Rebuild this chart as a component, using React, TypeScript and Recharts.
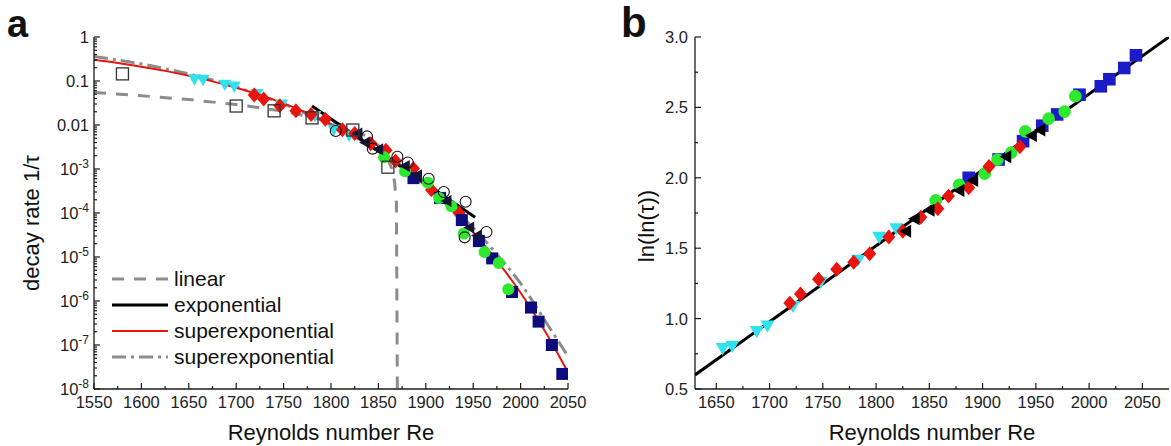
import React from 'react';
import { ComposedChart, Scatter, Line, XAxis, YAxis } from 'recharts';

const FONT = '"Liberation Sans", Arial, Helvetica, sans-serif';
const AXIS = '#1a1a1a';

// measured data sets: Reynolds number, decay rate 1/tau (panel a), ln(ln(tau)) (panel b)
const cyanRe = [1656, 1665, 1688, 1698, 1722, 1748, 1783, 1803, 1819];
const cyanRate = [0.11, 0.107, 0.083, 0.075, 0.051, 0.0295, 0.0162, 0.0078, 0.0058];
const cyanLnLn = [0.79, 0.805, 0.91, 0.95, 1.09, 1.26, 1.416, 1.58, 1.64];

const redRe = [1719, 1729, 1746, 1763, 1779, 1794, 1812, 1825, 1842, 1858, 1868, 1887, 1906, 1935];
const redRate = [0.048, 0.039, 0.0274, 0.0211, 0.0173, 0.0135, 0.0078, 0.0064, 0.00375, 0.00266, 0.00152, 0.00102, 3.35e-4, 1.0e-4];
const redLnLn = [1.11, 1.175, 1.28, 1.35, 1.4, 1.46, 1.58, 1.62, 1.72, 1.78, 1.87, 1.93, 2.08, 2.22];

const triRe = [1828, 1836, 1850, 1878, 1891, 1922, 1946, 1954];
const triRate = [0.0064, 0.004, 0.0028, 0.00117, 7.2e-4, 1.88e-4, 4.7e-5, 3.1e-5];
const triLnLn = [1.62, 1.71, 1.77, 1.91, 1.98, 2.15, 2.3, 2.34];

const greenRe = [1856, 1878, 1902, 1914, 1927, 1940, 1962, 1977, 1987];
const greenRate = [0.00184, 8.9e-4, 4.9e-4, 2.2e-4, 1.43e-4, 3.4e-5, 1.3e-5, 7.3e-6, 1.85e-6];
const greenLnLn = [1.84, 1.95, 2.03, 2.13, 2.18, 2.33, 2.42, 2.47, 2.58];

const blueRe = [1887, 1915, 1938, 1956, 1970, 1991, 2011, 2019, 2033, 2044];
const blueRate = [6.2e-4, 2.2e-4, 6.9e-5, 2.3e-5, 9.3e-6, 1.6e-6, 7.1e-7, 3.4e-7, 1.0e-7, 2.2e-8];
const blueLnLn = [2.0, 2.13, 2.26, 2.37, 2.45, 2.59, 2.65, 2.7, 2.78, 2.87];

// earlier studies, only in panel a
const openSqRe = [1580, 1700, 1740, 1780, 1823, 1860];
const openSqRate = [0.145, 0.027, 0.021, 0.0145, 0.0077, 0.0011];
const openCircRe = [1805, 1838, 1844, 1870, 1881, 1903, 1919, 1942, 1941, 1964];
const openCircRate = [0.0073, 0.0055, 0.0029, 0.0019, 0.0014, 6e-4, 3e-4, 1.8e-4, 2.8e-5, 3.7e-5];

// fit curves
const linRe = [1550, 1600, 1650, 1700, 1750, 1800, 1825, 1840, 1850, 1858, 1864, 1867, 1869, 1870];
const linRate = [0.055, 0.0464, 0.0378, 0.0292, 0.0206, 0.012, 0.0077, 0.0052, 0.0034, 0.0021, 0.00103, 5.2e-4, 1.7e-4, 1e-8];
const expRe = [1780, 1952];
const expRate = [0.027, 8e-5];
const superRe = [1550, 1575, 1600, 1625, 1650, 1675, 1700, 1725, 1750, 1775, 1800, 1825, 1850, 1875, 1900, 1925, 1950, 1975, 2000, 2025, 2050];
const superRate = [0.306, 0.258, 0.212, 0.17, 0.131, 0.098, 0.07, 0.048, 0.031, 0.0187, 0.0105, 0.00545, 0.00257, 0.00109, 4.07e-4, 1.32e-4, 3.62e-5, 8.3e-6, 1.54e-6, 2.2e-7, 2.4e-8];
const dashDotRate = [0.36, 0.3, 0.245, 0.19, 0.145, 0.105, 0.073, 0.048, 0.03, 0.018, 0.0102, 0.0054, 0.0026, 0.00115, 4.5e-4, 1.55e-4, 4.6e-5, 1.15e-5, 2.5e-6, 3.8e-7, 5.5e-8];

// fit line of panel b
const fitRe = [1630, 2075];
const fitLnLn = [0.6, 3.0];

// axes
const reMajorA = [1550, 1600, 1650, 1700, 1750, 1800, 1850, 1900, 1950, 2000, 2050];
const reTicksA = reMajorA.flatMap((v) => [v, v + 25]).filter((v) => v <= 2050);
const decadesA = [1e-8, 1e-7, 1e-6, 1e-5, 1e-4, 1e-3, 0.01, 0.1, 1];
const decadeLabelsA = ['10|-8', '10|-7', '10|-6', '10|-5', '10|-4', '10|-3', '0.01', '0.1', '1'];
const logTicksA = [
  ...decadesA,
  ...decadesA.slice(0, -1).flatMap((d) => [2, 3, 4, 5, 6, 7, 8, 9].map((k) => k * d)),
];

const reMajorB = [1650, 1700, 1750, 1800, 1850, 1900, 1950, 2000, 2050];
const reTicksB = reMajorB.flatMap((v) => [v, v + 25]).filter((v) => v <= 2050);
const lnMajorB = [0.5, 1.0, 1.5, 2.0, 2.5, 3.0];
const lnTicksB = [0.5, 0.75, 1.0, 1.25, 1.5, 1.75, 2.0, 2.25, 2.5, 2.75, 3.0];

const pts = (xs: number[], ys: number[]) => xs.map((x, i) => ({ x, y: ys[i] }));

type Side = 'bottom' | 'top' | 'left' | 'right';
const isIn = (list: number[], v: number) => list.some((m) => Math.abs(m - v) <= Math.abs(m) * 1e-6);

// ticks point inward; labels only on majors
const makeTick = (side: Side, majors: number[], label?: (v: number, x: number, y: number) => React.ReactNode) =>
  (props: any) => {
    const { x, y, payload } = props;
    const v = payload.value;
    const major = isIn(majors, v);
    const len = major ? 6 : 3;
    let x2 = x;
    let y2 = y;
    if (side === 'bottom') y2 = y - len;
    if (side === 'top') y2 = y + len;
    if (side === 'left') x2 = x + len;
    if (side === 'right') x2 = x - len;
    return (
      <g>
        <line x1={x} y1={y} x2={x2} y2={y2} stroke={AXIS} strokeWidth={1.2} />
        {major && label ? label(v, x, y) : null}
      </g>
    );
  };

const bottomLabel = (v: number, x: number, y: number) => (
  <text x={x} y={y + 19} textAnchor="middle" fontSize={16.5} fill="#222" fontFamily={FONT}>{v}</text>
);

const logLabel = (v: number, x: number, y: number) => {
  const i = decadesA.findIndex((d) => Math.abs(d - v) <= d * 1e-6);
  const [base, exp] = decadeLabelsA[i].split('|');
  return (
    <text x={x - 5} y={y + 6} textAnchor="end" fontSize={16.5} fill="#222" fontFamily={FONT}>
      {base}
      {exp ? <tspan dy={-7} fontSize={12}>{exp}</tspan> : null}
    </text>
  );
};

const lnLabel = (v: number, x: number, y: number) => (
  <text x={x - 7} y={y + 6} textAnchor="end" fontSize={16.5} fill="#222" fontFamily={FONT}>{v.toFixed(1)}</text>
);

type Mk = 'sq' | 'osq' | 'circ' | 'ocirc' | 'tdown' | 'tleft' | 'diam';
const marker = (kind: Mk, color: string, s: number) => (p: any) => {
  const { cx, cy } = p;
  if (cx == null || cy == null) return <g />;
  switch (kind) {
    case 'sq':
      return <rect x={cx - s} y={cy - s} width={2 * s} height={2 * s} fill={color} />;
    case 'osq':
      return <rect x={cx - s} y={cy - s} width={2 * s} height={2 * s} fill="none" stroke={color} strokeWidth={1.3} />;
    case 'circ':
      return <circle cx={cx} cy={cy} r={s} fill={color} />;
    case 'ocirc':
      return <circle cx={cx} cy={cy} r={s} fill="none" stroke={color} strokeWidth={1.1} />;
    case 'tdown':
      return <polygon points={`${cx - s},${cy - s * 0.75} ${cx + s},${cy - s * 0.75} ${cx},${cy + s}`} fill={color} />;
    case 'tleft':
      return <polygon points={`${cx - s},${cy} ${cx + s * 0.8},${cy - s} ${cx + s * 0.8},${cy + s}`} fill={color} />;
    default:
      return <polygon points={`${cx},${cy - s * 1.15} ${cx + s},${cy} ${cx},${cy + s * 1.15} ${cx - s},${cy}`} fill={color} />;
  }
};

const CYAN = '#30e2ee';
const RED = '#e8150f';
const GREEN = '#2ee82e';
const NAVY = '#0b0b7c';
const BLUE = '#1b1bc8';
const GRAY = '#8c8c8c';
const DASH = '12 10';
const DASHDOT = '14 5 3 5';

const axisLine = { stroke: AXIS, strokeWidth: 1.3 };

const PanelA = () => (
  <ComposedChart width={600} height={446} margin={{ top: 37, right: 32, bottom: 27, left: 34 }}>
    <XAxis dataKey="x" type="number" domain={[1550, 2050]} ticks={reTicksA} interval={0} allowDataOverflow
      tick={makeTick('bottom', reMajorA, bottomLabel)} tickLine={false} tickSize={0} tickMargin={0} height={30} axisLine={axisLine} />
    <XAxis xAxisId="t" orientation="top" type="number" domain={[1550, 2050]} ticks={reTicksA} interval={0} allowDataOverflow
      tick={makeTick('top', reMajorA)} tickLine={false} tickSize={0} tickMargin={0} height={0} axisLine={axisLine} />
    <YAxis dataKey="y" type="number" scale="log" domain={[1e-8, 1]} ticks={logTicksA} interval={0} allowDataOverflow
      tick={makeTick('left', decadesA, logLabel)} tickLine={false} tickSize={0} tickMargin={0} width={60} axisLine={axisLine} />
    <YAxis yAxisId="r" orientation="right" type="number" scale="log" domain={[1e-8, 1]} ticks={logTicksA} interval={0} allowDataOverflow
      tick={makeTick('right', decadesA)} tickLine={false} tickSize={0} tickMargin={0} width={0} axisLine={axisLine} />

    <Scatter data={pts(cyanRe, cyanRate)} shape={marker('tdown', CYAN, 6.5)} isAnimationActive={false} />
    <Scatter data={pts(redRe, redRate)} shape={marker('diam', RED, 6.5)} isAnimationActive={false} />
    <Scatter data={pts(blueRe, blueRate)} shape={marker('sq', NAVY, 6)} isAnimationActive={false} />
    <Scatter data={pts(greenRe, greenRate)} shape={marker('circ', GREEN, 6)} isAnimationActive={false} />
    <Scatter data={pts(triRe, triRate)} shape={marker('tleft', '#15153a', 6)} isAnimationActive={false} />
    <Scatter data={pts(openCircRe, openCircRate)} shape={marker('ocirc', '#111', 5.5)} isAnimationActive={false} />
    <Scatter data={pts(openSqRe, openSqRate)} shape={marker('osq', '#333', 6)} isAnimationActive={false} />

    <Line data={pts(linRe, linRate)} dataKey="y" type="linear" stroke={GRAY} strokeWidth={3} strokeDasharray={DASH}
      dot={false} activeDot={false} isAnimationActive={false} />
    <Line data={pts(superRe, dashDotRate)} dataKey="y" type="monotone" stroke={GRAY} strokeWidth={3} strokeDasharray={DASHDOT}
      dot={false} activeDot={false} isAnimationActive={false} />
    <Line data={pts(superRe, superRate)} dataKey="y" type="monotone" stroke={RED} strokeWidth={2}
      dot={false} activeDot={false} isAnimationActive={false} />
    <Line data={pts(expRe, expRate)} dataKey="y" type="linear" stroke="#000" strokeWidth={3}
      dot={false} activeDot={false} isAnimationActive={false} />
  </ComposedChart>
);

const PanelB = () => (
  <ComposedChart width={571} height={446} margin={{ top: 37, right: 2, bottom: 27, left: 35 }}>
    <XAxis dataKey="x" type="number" domain={[1630, 2075]} ticks={reTicksB} interval={0} allowDataOverflow
      tick={makeTick('bottom', reMajorB, bottomLabel)} tickLine={false} tickSize={0} tickMargin={0} height={30} axisLine={axisLine} />
    <XAxis xAxisId="t" orientation="top" type="number" domain={[1630, 2075]} ticks={reTicksB} interval={0} allowDataOverflow
      tick={makeTick('top', reMajorB)} tickLine={false} tickSize={0} tickMargin={0} height={0} axisLine={axisLine} />
    <YAxis dataKey="y" type="number" domain={[0.5, 3.0]} ticks={lnTicksB} interval={0} allowDataOverflow
      tick={makeTick('left', lnMajorB, lnLabel)} tickLine={false} tickSize={0} tickMargin={0} width={60} axisLine={axisLine} />
    <YAxis yAxisId="r" orientation="right" type="number" domain={[0.5, 3.0]} ticks={lnTicksB} interval={0} allowDataOverflow
      tick={makeTick('right', lnMajorB)} tickLine={false} tickSize={0} tickMargin={0} width={0} axisLine={axisLine} />

    <Line data={pts(fitRe, fitLnLn)} dataKey="y" type="linear" stroke="#000" strokeWidth={3}
      dot={false} activeDot={false} isAnimationActive={false} />

    <Scatter data={pts(cyanRe, cyanLnLn)} shape={marker('tdown', CYAN, 7)} isAnimationActive={false} />
    <Scatter data={pts(blueRe, blueLnLn)} shape={marker('sq', BLUE, 6.3)} isAnimationActive={false} />
    <Scatter data={pts(greenRe, greenLnLn)} shape={marker('circ', GREEN, 6.3)} isAnimationActive={false} />
    <Scatter data={pts(redRe, redLnLn)} shape={marker('diam', RED, 6.5)} isAnimationActive={false} />
    <Scatter data={pts(triRe, triLnLn)} shape={marker('tleft', '#000', 6.5)} isAnimationActive={false} />
  </ComposedChart>
);

const legendRows = [
  { label: 'linear', color: GRAY, width: 3, dash: DASH },
  { label: 'exponential', color: '#000', width: 3, dash: undefined },
  { label: 'superexponential', color: RED, width: 2, dash: undefined },
  { label: 'superexponential', color: GRAY, width: 3, dash: DASHDOT },
];

export default function App() {
  return (
    <div style={{ position: 'absolute', left: 0, top: 0, width: 1171, height: 446, background: '#fff', fontFamily: FONT }}>
      <div style={{ position: 'absolute', left: 0, top: 0 }}>
        <PanelA />
      </div>
      <div style={{ position: 'absolute', left: 600, top: 0 }}>
        <PanelB />
      </div>
      <svg width={1171} height={446} style={{ position: 'absolute', left: 0, top: 0, pointerEvents: 'none' }} fontFamily={FONT}>
        <text x={7} y={37} fontSize={38} fontWeight="bold" fill="#111">a</text>
        <text x={621} y={37} fontSize={42} fontWeight="bold" fill="#111">b</text>
        <text transform="translate(39,223) rotate(-90)" textAnchor="middle" fontSize={22} fill="#111">decay rate 1/τ</text>
        <text x={331} y={440} textAnchor="middle" fontSize={22} fill="#111">Reynolds number Re</text>
        <text x={932} y={440} textAnchor="middle" fontSize={22} fill="#111">Reynolds number Re</text>
        <text transform="translate(654,226) rotate(-90)" textAnchor="middle" fontSize={22} fill="#111">ln(ln(τ))</text>
        {legendRows.map((r, i) => {
          const y = 279 + i * 26;
          return (
            <g key={i}>
              <line x1={112} x2={168} y1={y} y2={y} stroke={r.color} strokeWidth={r.width} strokeDasharray={r.dash} />
              <text x={174} y={y + 7} fontSize={21} fill="#111">{r.label}</text>
            </g>
          );
        })}
      </svg>
    </div>
  );
}
